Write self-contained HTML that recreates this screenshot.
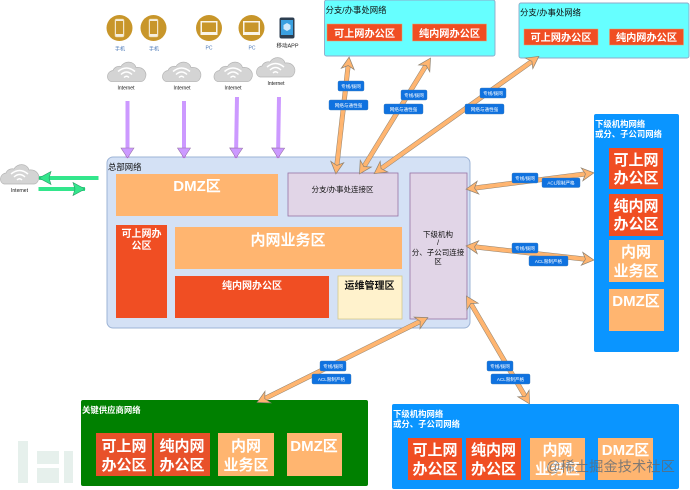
<!DOCTYPE html>
<html><head><meta charset="utf-8">
<style>
html,body{margin:0;padding:0;background:#fff;width:690px;height:490px;overflow:hidden}
svg{display:block;font-family:"Liberation Sans","Noto Sans CJK SC",sans-serif;filter:blur(.35px)}
.w{fill:#fff;font-weight:bold;text-anchor:middle}
.k{fill:#111;text-anchor:middle}
.b{fill:#fff;font-size:4.6px;text-anchor:middle}
</style></head><body>
<svg width="690" height="490" viewBox="0 0 690 490" xmlns="http://www.w3.org/2000/svg">
<defs>
<marker id="o" markerUnits="userSpaceOnUse" markerWidth="16" markerHeight="16" refX="4" refY="8" orient="auto-start-reverse"><path d="M1 1.5L13 8L1 14.500L4.500 8Z" fill="#ffb570" stroke="#8f8270" stroke-width=".7"/></marker>
<marker id="p" markerUnits="userSpaceOnUse" markerWidth="16" markerHeight="16" refX="13" refY="8" orient="auto"><path d="M3 1.500L13 8L3 14.500Z" fill="#cc99ff" stroke="#9673a6" stroke-width=".6"/></marker>
<marker id="g" markerUnits="userSpaceOnUse" markerWidth="16" markerHeight="16" refX="13" refY="8" orient="auto"><path d="M1 1.500L13 8L1 14.500L3 8Z" fill="#33e68c" stroke="#2a9a66" stroke-width=".6"/></marker>
<g id="cloud">
<path d="M4 23C-1 22-1 13 6 12C7 9 11 7 14 8C17 2 27 2 29 9C36 8 41 14 38 20C37 22 36 23 34 23Z" fill="#d4d4d4" stroke="#b5b5b5" stroke-width=".7"/>
<path d="M11 13Q19.500 6 28 13M14 16Q19.500 11 25 16M17 19Q19.500 16.500 22 19" fill="none" stroke="#fff" stroke-width="1.500"/>
</g>
<g id="phone"><circle r="13" fill="#c8962a"/><rect x="-4.500" y="-9" width="9" height="18" rx="1.500" fill="#fff" opacity=".85" stroke="#eed9a8" stroke-width=".6"/><rect x="-3.500" y="-7" width="7" height="13" fill="#c8962a"/></g>
<g id="pc"><circle r="13" fill="#c8962a"/><rect x="-8.500" y="-7" width="17" height="14" fill="#fff" opacity=".9"/><rect x="-7" y="-5.500" width="14" height="9.500" fill="#c8962a"/></g>
</defs>

<!-- watermark logo -->
<g fill="#e6f0ec">
<rect x="18" y="441" width="10" height="42"/><rect x="37" y="451" width="22" height="13"/><rect x="37" y="468" width="22" height="15"/><rect x="64" y="451" width="9" height="32"/>
</g>

<!-- top icons -->
<use href="#phone" x="119.500" y="28"/><use href="#phone" x="153.500" y="28"/>
<use href="#pc" x="209" y="28"/><use href="#pc" x="251.500" y="28"/>
<rect x="279.500" y="17.500" width="15" height="21" rx="2" fill="#2c3e50"/>
<rect x="281" y="20" width="12" height="15" fill="#3aa0e0"/>
<path d="M287 23l3.500 2v4l-3.500 2l-3.500-2v-4z" fill="#cfe9fa"/>
<g font-size="5px" fill="#4a78b8" text-anchor="middle">
<text x="120" y="50.500">手机</text><text x="154" y="50.500">手机</text>
<text x="209" y="49.500">PC</text><text x="252" y="49.500">PC</text></g>
<text x="287.500" y="47.500" font-size="5.500px" fill="#222" text-anchor="middle">移动APP</text>

<use href="#cloud" x="107" y="58.500"/><use href="#cloud" x="162" y="58.500"/><use href="#cloud" x="213.500" y="58.500"/><use href="#cloud" x="256" y="54"/>
<use href="#cloud" x="0" y="161"/>
<g font-size="5px" fill="#111" text-anchor="middle">
<text x="126" y="89.500">Internet</text><text x="182" y="89.500">Internet</text><text x="233" y="89.500">Internet</text><text x="276" y="85">Internet</text><text x="19.500" y="192">Internet</text></g>

<!-- main box -->
<rect x="107" y="157" width="363" height="171" rx="6" fill="#d4e1f5" stroke="#9db4d6" stroke-width="1"/>
<text x="108" y="170" font-size="8.400px" fill="#111">总部网络</text>
<rect x="116" y="174" width="162" height="42" fill="#ffb570"/>
<text class="w" x="197" y="191" font-size="15px">DMZ区</text>
<rect x="288" y="173" width="110" height="43" fill="#e1d5e7" stroke="#9673a6" stroke-width=".8"/>
<text class="k" x="342.500" y="192" font-size="7.500px">分支/办事处连接区</text>
<rect x="116" y="225" width="51" height="93" fill="#f04e23"/>
<text class="w" x="141.500" y="237" font-size="10px">可上网办</text>
<text class="w" x="141.500" y="249" font-size="10px">公区</text>
<rect x="175" y="227" width="227" height="42" fill="#ffb570"/>
<text class="w" x="288" y="245" font-size="15px">内网业务区</text>
<rect x="175" y="276" width="154" height="42" fill="#f04e23"/>
<text class="w" x="252" y="289" font-size="10px">纯内网办公区</text>
<rect x="338" y="276" width="64" height="43" fill="#fff2cc" stroke="#d6c98a" stroke-width=".8"/>
<text class="k" x="369.500" y="289" font-size="10px" font-weight="bold">运维管理区</text>
<rect x="410" y="173" width="57" height="146" fill="#e1d5e7" stroke="#9673a6" stroke-width=".8"/>
<g font-size="7.500px" text-anchor="middle" fill="#111">
<text x="438" y="237">下级机构</text><text x="438" y="245">/</text><text x="438" y="255">分、子公司连接</text><text x="438" y="264">区</text></g>

<!-- cyan boxes -->
<rect x="324.500" y="0" width="170.500" height="56" rx="2" fill="#66ffff" stroke="#8ea8c8" stroke-width=".9"/>
<text x="325.500" y="13" font-size="8.400px" fill="#111">分支/办事处网络</text>
<rect x="327" y="24" width="75" height="17" fill="#f04e23" stroke="#e8a070" stroke-width=".5"/>
<text class="w" x="364.500" y="37" font-size="10.200px">可上网办公区</text>
<rect x="412.500" y="24" width="74" height="17" fill="#f04e23" stroke="#e8a070" stroke-width=".5"/>
<text class="w" x="449.500" y="37" font-size="10.200px">纯内网办公区</text>

<rect x="519" y="3" width="170" height="55" rx="2" fill="#66ffff" stroke="#8ea8c8" stroke-width=".9"/>
<text x="520" y="15.500" font-size="8.400px" fill="#111">分支/办事处网络</text>
<rect x="524" y="29" width="74" height="16" fill="#f04e23" stroke="#e8a070" stroke-width=".5"/>
<text class="w" x="561" y="41" font-size="10.200px">可上网办公区</text>
<rect x="609.500" y="29" width="74" height="16" fill="#f04e23" stroke="#e8a070" stroke-width=".5"/>
<text class="w" x="646.500" y="41" font-size="10.200px">纯内网办公区</text>

<!-- right blue -->
<rect x="594" y="114" width="85" height="238" rx="2" fill="#0a95ff"/>
<text x="595" y="127" font-size="8.400px" fill="#fff" font-weight="bold">下级机构网络</text>
<text x="595" y="137" font-size="8.400px" fill="#fff" font-weight="bold">或分、子公司网络</text>
<rect x="609" y="148" width="54" height="41" fill="#f04e23"/>
<text class="w" x="636" y="165" font-size="15px">可上网</text><text class="w" x="636" y="183" font-size="15px">办公区</text>
<rect x="609" y="194" width="54" height="42" fill="#f04e23"/>
<text class="w" x="636" y="211" font-size="15px">纯内网</text><text class="w" x="636" y="229" font-size="15px">办公区</text>
<rect x="609" y="240" width="55" height="42" fill="#ffb570"/>
<text class="w" x="636" y="257" font-size="15px">内网</text><text class="w" x="636" y="276" font-size="15px">业务区</text>
<rect x="609" y="289" width="55" height="42" fill="#ffb570"/>
<text class="w" x="636" y="306" font-size="15px">DMZ区</text>

<!-- green box -->
<rect x="81" y="400" width="287" height="86" rx="2" fill="#008000"/>
<text x="82" y="413" font-size="8.400px" fill="#fff" font-weight="bold">关键供应商网络</text>
<rect x="96" y="433" width="56" height="43" fill="#e8512a"/>
<text class="w" x="124" y="451" font-size="15px">可上网</text><text class="w" x="124" y="470" font-size="15px">办公区</text>
<rect x="154" y="433" width="56" height="43" fill="#e8512a"/>
<text class="w" x="182" y="451" font-size="15px">纯内网</text><text class="w" x="182" y="470" font-size="15px">办公区</text>
<rect x="218" y="433" width="56" height="43" fill="#ffb570"/>
<text class="w" x="246" y="451" font-size="15px">内网</text><text class="w" x="246" y="470" font-size="15px">业务区</text>
<rect x="287" y="433" width="55" height="43" fill="#ffb570"/>
<text class="w" x="314" y="451" font-size="15px">DMZ区</text>

<!-- bottom blue -->
<rect x="392" y="404" width="287" height="85" rx="2" fill="#0a95ff"/>
<text x="393" y="417" font-size="8.400px" fill="#fff" font-weight="bold">下级机构网络</text>
<text x="393" y="427" font-size="8.400px" fill="#fff" font-weight="bold">或分、子公司网络</text>
<rect x="408" y="438" width="54" height="42" fill="#f04e23"/>
<text class="w" x="435" y="455" font-size="15px">可上网</text><text class="w" x="435" y="474" font-size="15px">办公区</text>
<rect x="466" y="438" width="55" height="42" fill="#f04e23"/>
<text class="w" x="493.500" y="455" font-size="15px">纯内网</text><text class="w" x="493.500" y="474" font-size="15px">办公区</text>
<rect x="530" y="438" width="55" height="42" fill="#ffb570"/>
<text class="w" x="557.500" y="455" font-size="15px">内网</text><text class="w" x="557.500" y="474" font-size="15px">业务区</text>
<rect x="598" y="438" width="55" height="42" fill="#ffb570"/>
<text class="w" x="625.500" y="455" font-size="15px">DMZ区</text>
<text x="546" y="471.500" font-size="14.300px" fill="#5f6a75" fill-opacity=".8">@稀土掘金技术社区</text>

<!-- orange arrows -->
<g fill="none" stroke="#8f8270" stroke-width="5">
<path d="M336.900 165L348.100 66"/>
<path d="M364.200 166.200L425.800 65.800"/>
<path d="M381.500 168.400L531.500 61.600"/>
<path d="M475 188L585 174"/>
<path d="M475 246.900L585 259.100"/>
<path d="M419.800 321.600L265.200 398.400"/>
<path d="M471 303.900L525 396.100"/>
</g>
<g fill="none" stroke="#ffb570" stroke-width="4">
<path d="M336.900 165L348.100 66" marker-start="url(#o)" marker-end="url(#o)"/>
<path d="M364.200 166.200L425.800 65.800" marker-start="url(#o)" marker-end="url(#o)"/>
<path d="M381.500 168.400L531.500 61.600" marker-start="url(#o)" marker-end="url(#o)"/>
<path d="M475 188L585 174" marker-start="url(#o)" marker-end="url(#o)"/>
<path d="M475 246.900L585 259.100" marker-start="url(#o)" marker-end="url(#o)"/>
<path d="M419.800 321.600L265.200 398.400" marker-start="url(#o)" marker-end="url(#o)"/>
<path d="M471 303.900L525 396.100" marker-start="url(#o)" marker-end="url(#o)"/>
</g>

<!-- purple arrows -->
<g fill="none" stroke="#cc99ff" stroke-width="4">
<path d="M127.500 101L127.500 158" marker-end="url(#p)"/>
<path d="M184 101L184 158" marker-end="url(#p)"/>
<path d="M237 97L236 158" marker-end="url(#p)"/>
<path d="M279 97L278 158" marker-end="url(#p)"/>
</g>
<!-- green arrows -->
<g fill="none" stroke="#33e68c" stroke-width="4">
<path d="M98.500 178L39 178" marker-end="url(#g)"/>
<path d="M38.500 189L85 189" marker-end="url(#g)"/>
</g>

<!-- badges -->
<g fill="#0f72e0" stroke="#3a78b8" stroke-width=".4">
<rect x="338" y="81" width="26" height="10" rx="1.500"/><rect x="329" y="100" width="39" height="10" rx="1.500"/>
<rect x="401" y="90" width="26" height="10" rx="1.500"/><rect x="384" y="104" width="39" height="10" rx="1.500"/>
<rect x="480" y="88" width="26" height="10" rx="1.500"/><rect x="465" y="104" width="39" height="10" rx="1.500"/>
<rect x="512" y="173" width="26" height="10" rx="1.500"/><rect x="542" y="178" width="38" height="9.500" rx="1.500"/>
<rect x="512" y="243" width="26" height="10" rx="1.500"/><rect x="529" y="256" width="39" height="10" rx="1.500"/>
<rect x="320" y="361" width="26" height="10" rx="1.500"/><rect x="312" y="374" width="39" height="10" rx="1.500"/>
<rect x="487" y="361" width="26" height="10" rx="1.500"/><rect x="491" y="374" width="39" height="10" rx="1.500"/>
</g>
<text class="b" x="351" y="87.800">专线/拨网</text><text class="b" x="348.500" y="106.800">网络与通性强</text>
<text class="b" x="414" y="96.800">专线/拨网</text><text class="b" x="403.500" y="110.800">网络与通性强</text>
<text class="b" x="493" y="94.800">专线/拨网</text><text class="b" x="484.500" y="110.800">网络与通性强</text>
<text class="b" x="525" y="179.800">专线/拨网</text><text class="b" x="561" y="184.500">ACL限制严格</text>
<text class="b" x="525" y="249.800">专线/拨网</text><text class="b" x="548.500" y="262.800">ACL限制严格</text>
<text class="b" x="333" y="367.800">专线/拨网</text><text class="b" x="331.500" y="380.800">ACL限制严格</text>
<text class="b" x="500" y="367.800">专线/拨网</text><text class="b" x="510.500" y="380.800">ACL限制严格</text>
</svg>
</body></html>
